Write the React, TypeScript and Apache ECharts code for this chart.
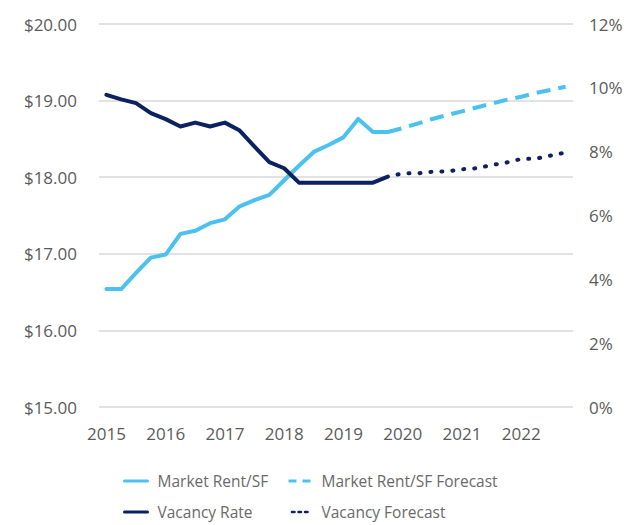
import React, { useEffect, useRef } from "react";
import * as echarts from "echarts";

const quarters: string[] = [];
for (let y = 2015; y <= 2022; y++) {
  for (let q = 1; q <= 4; q++) quarters.push(`${y} Q${q}`);
}

// Market rent ($/SF), 2015 Q1 – 2019 Q4
const rentActual = [
  16.54, 16.54, 16.75, 16.95, 16.99, 17.26, 17.30, 17.40, 17.45, 17.62,
  17.70, 17.77, 17.96, 18.15, 18.33, 18.42, 18.52, 18.76, 18.59, 18.59,
];
// Market rent forecast, 2019 Q4 – 2022 Q4
const rentForecast = [
  18.59, 18.64, 18.70, 18.76, 18.81, 18.86, 18.91, 18.96, 19.01, 19.05,
  19.10, 19.14, 19.18,
];
// Vacancy rate (%), 2015 Q1 – 2019 Q4
const vacancyActual = [
  9.78, 9.64, 9.52, 9.21, 9.02, 8.79, 8.91, 8.79, 8.91, 8.66,
  8.16, 7.67, 7.48, 7.03, 7.03, 7.03, 7.03, 7.03, 7.03, 7.22,
];
// Vacancy forecast (%), 2019 Q4 – 2022 Q4
const vacancyForecast = [
  7.22, 7.32, 7.32, 7.37, 7.38, 7.45, 7.48, 7.58, 7.66, 7.77, 7.78, 7.88,
  7.97,
];

const forecastStart = 19;

const padActual = (arr: number[]) =>
  quarters.map((_, i) => (i < arr.length ? arr[i] : null));
const padForecast = (arr: number[]) =>
  quarters.map((_, i) => (i >= forecastStart ? arr[i - forecastStart] : null));

const RENT = "#4bc2ee";
const NAVY = "#0b2160";
const TEXT = "#5b5b5b";
const FONT = "'Open Sans', 'Noto Sans', sans-serif";

export default function App() {
  const ref = useRef<HTMLDivElement>(null);
  useEffect(() => {
    if (!ref.current) return;
    const chart = echarts.init(ref.current, undefined, { renderer: "svg" });
    const legendCommon = {
      orient: "vertical" as const,
      top: 473,
      padding: 0,
      itemWidth: 23,
      itemHeight: 14,
      itemGap: 15,
      textStyle: {
        color: "#6a6a6a",
        fontSize: 15.5,
        fontFamily: FONT,
        padding: [0, 0, 0, 5],
      },
      itemStyle: { opacity: 0 },
    };
    chart.setOption({
      animation: false,
      textStyle: { fontFamily: FONT },
      grid: { left: 99, right: 57, top: 24, bottom: 118 },
      legend: [
        {
          ...legendCommon,
          left: 123,
          data: [
            { name: "Market Rent/SF", lineStyle: { width: 3, type: "solid" } },
            { name: "Vacancy Rate", lineStyle: { width: 3, type: "solid" } },
          ],
        },
        {
          ...legendCommon,
          left: 287,
          data: [
            {
              name: "Market Rent/SF Forecast",
              lineStyle: { width: 3, type: [8, 6] },
            },
            {
              name: "Vacancy Forecast",
              lineStyle: { width: 2.5, type: [2.5, 4] },
            },
          ],
        },
      ],
      xAxis: {
        type: "category",
        data: quarters,
        boundaryGap: true,
        axisLine: { show: false },
        axisTick: { show: false },
        axisLabel: {
          interval: 3,
          margin: 18,
          color: TEXT,
          fontSize: 17,
          fontFamily: FONT,
          formatter: (v: string) => v.slice(0, 4),
        },
      },
      yAxis: [
        {
          type: "value",
          min: 15,
          max: 20,
          interval: 1,
          axisLine: { show: false },
          axisTick: { show: false },
          splitLine: { lineStyle: { color: "#d9d9d9", width: 1.5 } },
          axisLabel: {
            margin: 22,
            color: TEXT,
            fontSize: 17,
            fontFamily: FONT,
            formatter: (v: number) => "$" + v.toFixed(2),
          },
        },
        {
          type: "value",
          min: 0,
          max: 12,
          interval: 2,
          position: "right",
          axisLine: { show: false },
          axisTick: { show: false },
          splitLine: { show: false },
          axisLabel: {
            margin: 16,
            color: TEXT,
            fontSize: 17,
            fontFamily: FONT,
            formatter: (v: number) => v + "%",
          },
        },
      ],
      series: [
        {
          name: "Market Rent/SF",
          type: "line",
          data: padActual(rentActual),
          yAxisIndex: 0,
          symbol: "none",
          color: RENT,
          lineStyle: { color: RENT, width: 4, cap: "round", join: "round" },
        },
        {
          name: "Market Rent/SF Forecast",
          type: "line",
          data: padForecast(rentForecast),
          yAxisIndex: 0,
          symbol: "none",
          color: RENT,
          lineStyle: { color: RENT, width: 4, type: [14, 8], join: "round" },
        },
        {
          name: "Vacancy Rate",
          type: "line",
          data: padActual(vacancyActual),
          yAxisIndex: 1,
          symbol: "none",
          color: NAVY,
          lineStyle: { color: NAVY, width: 4, cap: "round", join: "round" },
        },
        {
          name: "Vacancy Forecast",
          type: "line",
          data: padForecast(vacancyForecast),
          yAxisIndex: 1,
          symbol: "none",
          color: NAVY,
          lineStyle: {
            color: NAVY,
            width: 4,
            type: [1, 10],
            cap: "round",
            dashOffset: -10,
          },
        },
      ],
    });
    return () => chart.dispose();
  }, []);
  return (
    <div
      ref={ref}
      style={{ position: "absolute", left: 0, top: 0, width: 630, height: 525 }}
    />
  );
}
